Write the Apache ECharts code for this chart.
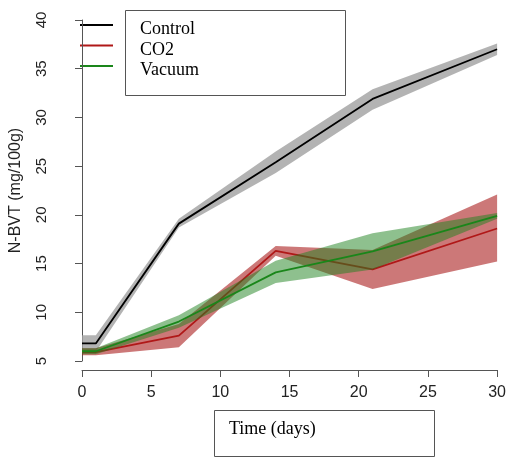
<!DOCTYPE html>
<html>
<head>
<meta charset="utf-8">
<script src="https://cdn.jsdelivr.net/npm/echarts@6/dist/echarts.min.js"></script>
<style>
  html, body { margin: 0; padding: 0; background: #ffffff; }
  #chart { width: 509px; height: 458px; }
</style>
</head>
<body>
<div id="chart"></div>
<script>
// Storage time (days)
const days = [0, 1, 7, 14, 21, 30];

// N-BVT (mg/100g): mean and lower/upper limits per packaging
const controlMean = [6.8, 6.8, 19.1, 25.4, 31.9, 37.0];
const controlLow  = [5.95, 5.95, 18.7, 24.3, 30.8, 36.4];
const controlHigh = [7.65, 7.65, 19.6, 26.5, 32.9, 37.6];

const co2Mean = [5.9, 5.9, 7.6, 16.3, 14.4, 18.6];
const co2Low  = [5.6, 5.6, 6.4, 15.8, 12.4, 15.2];
const co2High = [6.3, 6.3, 8.8, 16.8, 16.4, 22.1];

const vacuumMean = [6.0, 6.0, 9.05, 14.1, 16.25, 19.9];
const vacuumLow  = [5.7, 5.7, 8.4, 13.0, 14.4, 19.6];
const vacuumHigh = [6.3, 6.3, 9.7, 15.3, 18.1, 20.2];

const seriesNames = ['Control', 'CO2', 'Vacuum'];
const xTitle = 'Time (days)';
const yTitle = 'N-BVT (mg/100g)';

const lineColors = ['#000000', '#b01818', '#1a861a'];
const bandColors = ['rgba(160,160,160,0.8)', 'rgba(170,30,30,0.6)', 'rgba(30,130,30,0.5)'];

function bandSeries(name, low, high, color, z) {
  return {
    type: 'custom',
    name: name + ' range',
    z: z,
    silent: true,
    data: days.map((d, i) => [d, low[i], high[i]]),
    encode: { x: 0, y: [1, 2] },
    renderItem: function (params, api) {
      if (params.dataIndex !== 0) return null;
      const pts = [];
      for (let i = 0; i < days.length; i++) pts.push(api.coord([days[i], high[i]]));
      for (let i = days.length - 1; i >= 0; i--) pts.push(api.coord([days[i], low[i]]));
      return { type: 'polygon', shape: { points: pts }, style: { fill: color } };
    }
  };
}

function meanSeries(name, values, color, z) {
  return {
    type: 'line',
    name: name,
    z: z,
    symbol: 'none',
    silent: true,
    data: days.map((d, i) => [d, values[i]]),
    lineStyle: { color: color, width: 1.8 }
  };
}

const means = [controlMean, co2Mean, vacuumMean];
const lows = [controlLow, co2Low, vacuumLow];
const highs = [controlHigh, co2High, vacuumHigh];

const series = [];
seriesNames.forEach((n, k) => {
  series.push(bandSeries(n, lows[k], highs[k], bandColors[k], 2 * k + 1));
  series.push(meanSeries(n, means[k], lineColors[k], 2 * k + 2));
});

// Legend drawn R-style: line keys outside a framed box of labels
const legendGraphics = [
  { type: 'rect', shape: { x: 125.5, y: 10.5, width: 220, height: 85 },
    style: { fill: 'none', stroke: '#555', lineWidth: 1 } }
];
seriesNames.forEach((n, k) => {
  const yLine = 25 + k * 20.5;
  legendGraphics.push({ type: 'line', shape: { x1: 80, y1: yLine, x2: 113, y2: yLine },
    style: { stroke: lineColors[k], lineWidth: 2 } });
  legendGraphics.push({ type: 'text', x: 140, y: yLine + 4.5,
    style: { text: n, fill: '#000', font: '18px "Liberation Serif"', verticalAlign: 'middle' } });
});
legendGraphics.push({ type: 'rect', shape: { x: 214.5, y: 410.5, width: 220, height: 46 },
  style: { fill: 'none', stroke: '#555', lineWidth: 1 } });
legendGraphics.push({ type: 'text', x: 229, y: 429,
  style: { text: xTitle, fill: '#000', font: '18px "Liberation Serif"', verticalAlign: 'middle' } });

const chart = echarts.init(document.getElementById('chart'), null, { renderer: 'canvas' });
chart.setOption({
  backgroundColor: '#ffffff',
  animation: false,
  grid: { left: 81, right: 9, top: 20, bottom: 97 },
  xAxis: {
    type: 'value', min: 0, max: 30, interval: 5, offset: 9,
    axisLine: { show: true, lineStyle: { color: '#555', width: 1 } },
    axisTick: { show: true, length: 7, lineStyle: { color: '#555' } },
    axisLabel: { color: '#222', fontSize: 16, fontFamily: 'Liberation Sans', margin: 15 },
    splitLine: { show: false }
  },
  yAxis: {
    type: 'value', min: 5, max: 40, interval: 5, offset: 18,
    name: yTitle, nameLocation: 'middle', nameRotate: 90, nameGap: 40,
    nameTextStyle: { color: '#222', fontSize: 16, fontFamily: 'Liberation Sans' },
    axisLine: { show: true, lineStyle: { color: '#555', width: 1 } },
    axisTick: { show: true, length: 7, lineStyle: { color: '#555' } },
    axisLabel: { color: '#222', fontSize: 15, fontFamily: 'Liberation Sans', rotate: 90, margin: 15 },
    splitLine: { show: false }
  },
  series: series,
  graphic: legendGraphics
});
</script>
</body>
</html>
